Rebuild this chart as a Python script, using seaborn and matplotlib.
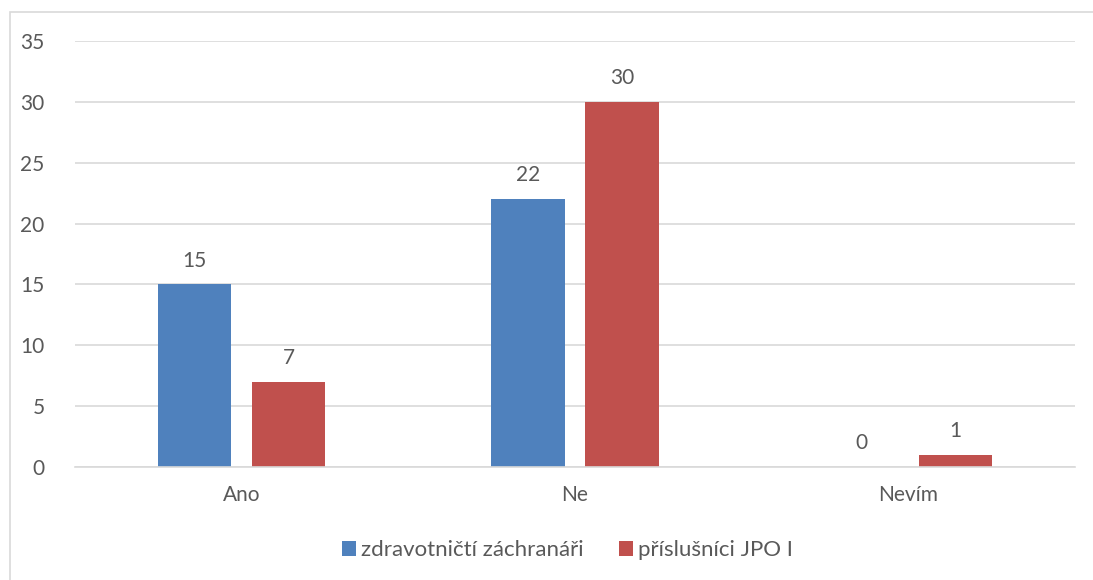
import matplotlib
matplotlib.use("Agg")
import matplotlib.pyplot as plt
from matplotlib.patches import Rectangle
import seaborn as sns
import pandas as pd

categories = ["Ano", "Ne", "Nevím"]
series_names = ["zdravotničtí záchranáři", "příslušníci JPO I"]
zdravotnici = [15, 22, 0]
jpo = [7, 30, 1]
colors = ["#4F81BD", "#C0504D"]

df = pd.DataFrame({
    "odpoved": categories * 2,
    "skupina": [series_names[0]] * 3 + [series_names[1]] * 3,
    "pocet": zdravotnici + jpo,
})

sns.set_theme(style="white")
plt.rcParams["font.family"] = ["Lato", "DejaVu Sans"]
text_color = "#595959"
grid_color = "#D9D9D9"

fig = plt.figure(figsize=(10.93, 5.80), dpi=100)
ax = fig.add_axes([75 / 1093, 1 - 467 / 580, 1000 / 1093, 426 / 580])

sns.barplot(data=df, x="odpoved", y="pocet", hue="skupina", order=categories,
            hue_order=series_names, palette=colors, width=0.564, gap=0.22,
            saturation=1, linewidth=0, ax=ax, legend=True)

for cont in ax.containers:
    ax.bar_label(cont, labels=[f"{v:g}" for v in cont.datavalues], padding=10,
                 fontsize=15, color=text_color)

ax.set_xlim(-0.5, 2.5)
ax.set_ylim(0, 35)
ax.set_yticks(range(0, 36, 5))
ax.yaxis.grid(True, color=grid_color, linewidth=1.2)
ax.set_axisbelow(True)
for side in ["top", "right", "left"]:
    ax.spines[side].set_visible(False)
ax.spines["bottom"].set_color(grid_color)
ax.spines["bottom"].set_linewidth(1.2)
ax.tick_params(axis="both", length=0, labelsize=15, labelcolor=text_color)
ax.tick_params(axis="y", pad=22)
ax.tick_params(axis="x", pad=13)
ax.set_xlabel("")
ax.set_ylabel("")

handles, labels = ax.get_legend_handles_labels()
ax.legend_.remove()
fig.legend(handles, labels, loc="center", bbox_to_anchor=(0.519, 1 - 550 / 580),
           ncol=2, frameon=False, fontsize=16, labelcolor=text_color,
           handlelength=0.65, handleheight=0.65, handletextpad=0.2,
           columnspacing=1.6)

fig.patches.append(Rectangle((10 / 1093, -0.02), 1.2, (580 - 12) / 580 + 0.02,
                             transform=fig.transFigure, fill=False,
                             edgecolor=grid_color, linewidth=1.2))

fig.savefig("out.png", dpi=100)
